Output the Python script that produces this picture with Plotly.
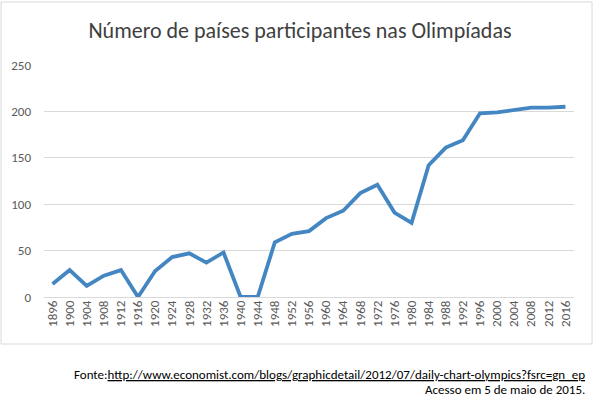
import plotly.graph_objects as go

# Olympic games, every 4 years
anos = [str(a) for a in range(1896, 2017, 4)]
paises = [14, 29, 12, 23, 29, 0, 28, 43, 47, 37, 48, 0, 0, 59, 68, 71,
          85, 93, 112, 121, 91, 80, 142, 161, 169, 198, 199, 201, 204, 204, 205]
y_ticks = [0, 50, 100, 150, 200, 250]

fonte = "Calibri, Carlito, Lato, sans-serif"

fig = go.Figure()
fig.add_trace(go.Scatter(
    x=anos, y=paises, mode="lines",
    line=dict(color="#4486c2", width=3.8),
    hoverinfo="x+y"
))

fig.update_layout(
    width=594, height=400,
    margin=dict(l=44, r=20, t=65, b=103),
    paper_bgcolor="white", plot_bgcolor="white",
    showlegend=False,
    font=dict(family=fonte, color="#595959", size=13),
    title=dict(text="Número de países participantes nas Olimpíadas",
               x=0.505, xanchor="center", y=0.925, yanchor="middle",
               font=dict(size=22, color="#404040", family=fonte)),
)

fig.update_xaxes(
    type="category", range=[-0.5, len(anos) - 0.5],
    tickangle=-90, showgrid=False, showline=False,
    ticks="", tickfont=dict(size=13, color="#595959")
)
fig.update_yaxes(
    range=[0, 250], tickvals=y_ticks, showgrid=True, gridcolor="#d9d9d9",
    gridwidth=1, zeroline=True, zerolinecolor="#d9d9d9", zerolinewidth=1,
    ticks="", ticklabelstandoff=12, tickfont=dict(size=13, color="#595959")
)

# light frame around the chart area
fig.add_shape(type="rect", xref="paper", yref="paper",
              x0=-0.081, x1=1.034, y0=-0.2026, y1=1.2716,
              line=dict(color="#d9d9d9", width=1))

fig.add_annotation(
    xref="paper", yref="paper", x=1.025, y=-0.335, xanchor="right", yanchor="middle",
    text="Fonte:<u>http://www.economist.com/blogs/graphicdetail/2012/07/daily-chart-olympics?fsrc=gn_ep</u>",
    showarrow=False, font=dict(size=13, color="black", family=fonte)
)
fig.add_annotation(
    xref="paper", yref="paper", x=1.025, y=-0.4, xanchor="right", yanchor="middle",
    text="Acesso em 5 de maio de 2015.",
    showarrow=False, font=dict(size=13, color="black", family=fonte)
)

# page has a default 8px body margin; drop it so the figure fills the window
fig.write_html("out.html", config={"displayModeBar": False},
               post_script="document.body.style.margin='0';")
